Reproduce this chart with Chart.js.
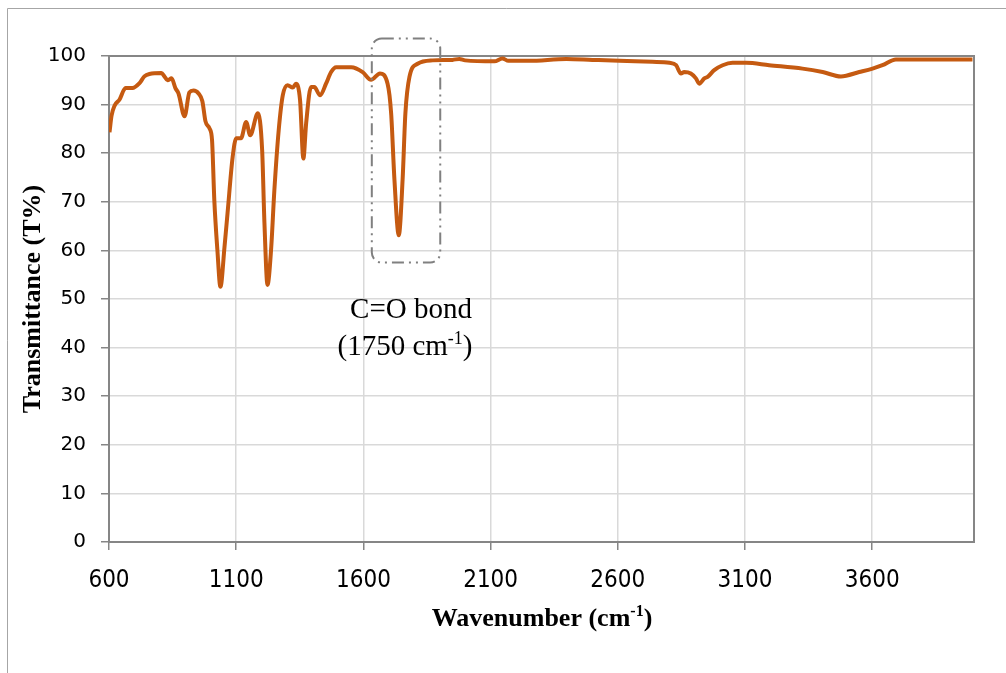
<!DOCTYPE html>
<html>
<head>
<meta charset="utf-8">
<script src="https://cdn.jsdelivr.net/npm/chart.js@4/dist/chart.umd.min.js"></script>
<style>
  body { margin: 0; background: #fff; }
  canvas { display: block; }
</style>
</head>
<body>
<canvas id="myChart" width="1006" height="673"></canvas>
<script>
// FTIR spectrum
const wavenumber = [
  602, 610, 622, 641, 665, 692, 720, 739, 759, 806, 818, 830, 846, 861, 873,
  897, 916, 932, 952, 967, 979, 995, 1005, 1014, 1026, 1038, 1054, 1066, 1086,
  1100, 1119, 1139, 1155, 1185, 1202, 1211, 1223, 1237, 1250, 1267, 1283, 1302,
  1322, 1335, 1351, 1364, 1375, 1394, 1407, 1430, 1453, 1473, 1493, 1552, 1597,
  1630, 1665, 1695, 1709, 1722, 1739, 1754, 1765, 1781, 1813, 1872, 1950, 1977,
  2000, 2115, 2146, 2170, 2250, 2398, 2500, 2606, 2736, 2803, 2829, 2848, 2861,
  2887, 2907, 2920, 2940, 2953, 2979, 3012, 3051, 3104, 3195, 3326, 3405, 3477,
  3549, 3601, 3640, 3693, 3994
];
const transmittance = [
  84.3, 87.7, 89.8, 91.0, 93.4, 93.4, 94.4, 95.8, 96.3, 96.5, 95.8, 95.0, 95.4, 93.4, 92.3,
  87.6, 92.5, 92.9, 92.3, 90.7, 86.6, 85.1, 82.7, 70.3, 60.1, 52.5, 60.7, 67.7, 79.2,
  83.1, 83.1, 86.4, 83.7, 88.2, 80.6, 65.6, 52.9, 60.1, 72.4, 84.7, 91.9, 94.0,
  93.5, 94.3, 90.9, 78.9, 86.2, 93.6, 93.6, 91.9, 94.3, 96.7, 97.7, 97.7, 96.7,
  95.1, 96.4, 94.3, 88.2, 74.5, 63.1, 74.5, 88.2, 95.7, 98.4, 99.1, 99.2, 99.4,
  99.1, 98.9, 99.5, 99.0, 99.0, 99.4, 99.2, 99.0, 98.8, 98.6, 98.1, 96.4, 96.7,
  96.4, 95.4, 94.3, 95.4, 95.7, 97.1, 98.1, 98.6, 98.6, 98.1, 97.4, 96.7, 95.8,
  96.7, 97.4, 98.1, 99.3, 99.3
];
const xTicks = [600, 1100, 1600, 2100, 2600, 3100, 3600];

// dashed box around the C=O peak (wavenumber / T% corners)
const boxX = [1633, 1902];
const boxY = [57.5, 103.6];
const noteLines = ["C=O bond", "(1750 cm", "-1", ")"];

const lineColor = "#C55A11";
const axisGray = "#868686";

function drawSup(ctx, parts, cx, y, font, supFont, rise) {
  // parts: [base, sup, tail]
  ctx.font = font;
  const w0 = ctx.measureText(parts[0]).width;
  const w2 = ctx.measureText(parts[2]).width;
  ctx.font = supFont;
  const w1 = ctx.measureText(parts[1]).width;
  let x = cx - (w0 + w1 + w2) / 2;
  ctx.textAlign = "left";
  ctx.textBaseline = "alphabetic";
  ctx.font = font;
  ctx.fillText(parts[0], x, y);
  x += w0;
  ctx.font = supFont;
  ctx.fillText(parts[1], x, y - rise);
  x += w1;
  ctx.font = font;
  ctx.fillText(parts[2], x, y);
}

const decor = {
  id: "decor",
  beforeDatasetsDraw(chart) {
    const { ctx, chartArea } = chart;
    ctx.save();
    ctx.strokeStyle = axisGray;
    ctx.lineWidth = 2;
    ctx.strokeRect(chartArea.left, chartArea.top, chartArea.right - chartArea.left, chartArea.bottom - chartArea.top);
    ctx.restore();
  },
  afterDraw(chart) {
    const { ctx, chartArea, scales } = chart;
    ctx.save();

    // outer frame
    ctx.strokeStyle = "#a6a6a6";
    ctx.lineWidth = 1;
    ctx.beginPath();
    ctx.moveTo(7.5, 673);
    ctx.lineTo(7.5, 8.5);
    ctx.lineTo(1006, 8.5);
    ctx.stroke();

    ctx.fillStyle = "#000";

    // y title
    ctx.save();
    ctx.translate(33, (chartArea.top + chartArea.bottom) / 2);
    ctx.rotate(-Math.PI / 2);
    ctx.font = "bold 26px 'Liberation Serif'";
    ctx.textAlign = "center";
    ctx.textBaseline = "middle";
    ctx.fillText("Transmittance (T%)", 0, 0);
    ctx.restore();

    // x title
    drawSup(ctx, ["Wavenumber (cm", "-1", ")"], 542, 626,
      "bold 26px 'Liberation Serif'", "bold 16px 'Liberation Serif'", 10);

    // dashed box
    const x0 = scales.x.getPixelForValue(boxX[0]);
    const x1 = scales.x.getPixelForValue(boxX[1]);
    const y0 = scales.y.getPixelForValue(boxY[1]);
    const y1 = scales.y.getPixelForValue(boxY[0]);
    ctx.strokeStyle = "#808080";
    ctx.lineWidth = 2;
    ctx.setLineDash([12, 5, 2, 5, 2, 5]);
    ctx.beginPath();
    ctx.roundRect(x0, y0, x1 - x0, y1 - y0, 10);
    ctx.stroke();
    ctx.setLineDash([]);

    // note
    const cx = (x0 + x1) / 2;
    ctx.font = "29px 'Liberation Serif'";
    ctx.textAlign = "center";
    ctx.textBaseline = "alphabetic";
    ctx.fillText(noteLines[0], cx + 5, 318);
    drawSup(ctx, [noteLines[1], noteLines[2], noteLines[3]], cx - 1, 355,
      "29px 'Liberation Serif'", "18px 'Liberation Serif'", 11);

    ctx.restore();
  },
};

const ctx = document.getElementById("myChart");

new Chart(ctx, {
  type: "line",
  data: {
    datasets: [
      {
        label: "Transmittance",
        data: wavenumber.map((w, i) => ({ x: w, y: transmittance[i] })),
        borderColor: lineColor,
        borderWidth: 4,
        pointRadius: 0,
        cubicInterpolationMode: "monotone",
        fill: false,
      },
    ],
  },
  options: {
    responsive: false,
    animation: false,
    layout: { padding: { left: 0, top: 56, right: 32, bottom: 0 } },
    plugins: { legend: { display: false }, tooltip: { enabled: false } },
    scales: {
      x: {
        type: "linear",
        min: 600,
        max: 4000,
        afterBuildTicks: (scale) => {
          scale.ticks = xTicks.map((v) => ({ value: v }));
        },
        afterFit: (scale) => {
          scale.height = 131;
        },
        grid: { color: "#d9d9d9", lineWidth: 1.5, tickColor: axisGray, tickLength: 8 },
        border: { color: axisGray, width: 2 },
        ticks: {
          color: "#000",
          padding: 16,
          maxRotation: 0,
          callback: (v) => String(v),
          font: { family: "'Liberation Sans Narrow', 'DejaVu Sans Condensed', sans-serif", size: 24 },
        },
      },
      y: {
        min: 0,
        max: 100,
        afterFit: (scale) => {
          scale.width = 109;
        },
        grid: { color: "#d9d9d9", lineWidth: 1.5, tickColor: axisGray, tickLength: 8 },
        border: { color: axisGray, width: 2 },
        ticks: {
          stepSize: 10,
          color: "#000",
          padding: 15,
          font: { family: "'DejaVu Sans', sans-serif", size: 20 },
        },
      },
    },
  },
  plugins: [decor],
});
</script>
</body>
</html>
